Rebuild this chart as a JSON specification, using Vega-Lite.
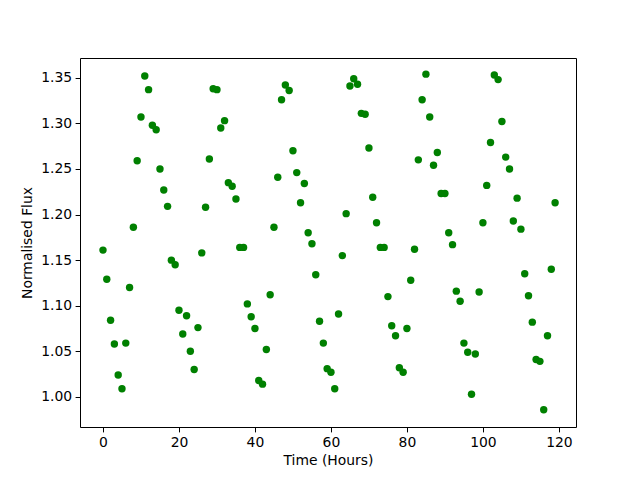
{
  "$schema": "https://vega.github.io/schema/vega-lite/v6.json",
  "width": 496,
  "height": 369,
  "autosize": {"type": "none"},
  "padding": {"left": 80, "top": 58, "right": 64, "bottom": 53},
  "background": "white",
  "config": {
    "view": {"stroke": "black", "strokeWidth": 1},
    "font": "DejaVu Sans",
    "axis": {
      "grid": false,
      "domain": false,
      "tickColor": "black",
      "tickSize": 4.9,
      "tickWidth": 1,
      "labelColor": "black",
      "labelFont": "DejaVu Sans",
      "labelFontSize": 13.9,
      "labelPadding": 3.5,
      "titleColor": "black",
      "titleFont": "DejaVu Sans",
      "titleFontSize": 13.9,
      "titleFontWeight": "normal"
    }
  },
  "data": {
    "values": [
      {"t":0,"f":1.161},{"t":1,"f":1.129},{"t":2,"f":1.084},{"t":3,"f":1.058},{"t":4,"f":1.024},
      {"t":5,"f":1.009},{"t":6,"f":1.059},{"t":7,"f":1.120},{"t":8,"f":1.186},{"t":9,"f":1.259},
      {"t":10,"f":1.307},{"t":11,"f":1.352},{"t":12,"f":1.337},{"t":13,"f":1.298},{"t":14,"f":1.293},
      {"t":15,"f":1.250},{"t":16,"f":1.227},{"t":17,"f":1.209},{"t":18,"f":1.150},{"t":19,"f":1.145},
      {"t":20,"f":1.095},{"t":21,"f":1.069},{"t":22,"f":1.089},{"t":23,"f":1.050},{"t":24,"f":1.030},
      {"t":25,"f":1.076},{"t":26,"f":1.158},{"t":27,"f":1.208},{"t":28,"f":1.261},{"t":29,"f":1.338},
      {"t":30,"f":1.337},{"t":31,"f":1.295},{"t":32,"f":1.303},{"t":33,"f":1.235},{"t":34,"f":1.231},
      {"t":35,"f":1.217},{"t":36,"f":1.164},{"t":37,"f":1.164},{"t":38,"f":1.102},{"t":39,"f":1.088},
      {"t":40,"f":1.075},{"t":41,"f":1.018},{"t":42,"f":1.014},{"t":43,"f":1.052},{"t":44,"f":1.112},
      {"t":45,"f":1.186},{"t":46,"f":1.241},{"t":47,"f":1.326},{"t":48,"f":1.342},{"t":49,"f":1.336},
      {"t":50,"f":1.270},{"t":51,"f":1.246},{"t":52,"f":1.213},{"t":53,"f":1.234},{"t":54,"f":1.180},
      {"t":55,"f":1.168},{"t":56,"f":1.134},{"t":57,"f":1.083},{"t":58,"f":1.059},{"t":59,"f":1.031},
      {"t":60,"f":1.027},{"t":61,"f":1.009},{"t":62,"f":1.091},{"t":63,"f":1.155},{"t":64,"f":1.201},
      {"t":65,"f":1.341},{"t":66,"f":1.349},{"t":67,"f":1.343},{"t":68,"f":1.311},{"t":69,"f":1.310},
      {"t":70,"f":1.273},{"t":71,"f":1.219},{"t":72,"f":1.191},{"t":73,"f":1.164},{"t":74,"f":1.164},
      {"t":75,"f":1.110},{"t":76,"f":1.078},{"t":77,"f":1.067},{"t":78,"f":1.032},{"t":79,"f":1.027},
      {"t":80,"f":1.075},{"t":81,"f":1.128},{"t":82,"f":1.162},{"t":83,"f":1.260},{"t":84,"f":1.326},
      {"t":85,"f":1.354},{"t":86,"f":1.307},{"t":87,"f":1.254},{"t":88,"f":1.268},{"t":89,"f":1.223},
      {"t":90,"f":1.223},{"t":91,"f":1.180},{"t":92,"f":1.167},{"t":93,"f":1.116},{"t":94,"f":1.105},
      {"t":95,"f":1.059},{"t":96,"f":1.049},{"t":97,"f":1.003},{"t":98,"f":1.047},{"t":99,"f":1.115},
      {"t":100,"f":1.191},{"t":101,"f":1.232},{"t":102,"f":1.279},{"t":103,"f":1.353},{"t":104,"f":1.348},
      {"t":105,"f":1.302},{"t":106,"f":1.263},{"t":107,"f":1.250},{"t":108,"f":1.193},{"t":109,"f":1.218},
      {"t":110,"f":1.184},{"t":111,"f":1.135},{"t":112,"f":1.111},{"t":113,"f":1.082},{"t":114,"f":1.041},
      {"t":115,"f":1.039},{"t":116,"f":0.986},{"t":117,"f":1.067},{"t":118,"f":1.140},{"t":119,"f":1.213}
    ]
  },
  "mark": {"type": "circle", "color": "#008000", "opacity": 1, "size": 55},
  "encoding": {
    "x": {
      "field": "t",
      "type": "quantitative",
      "scale": {"domain": [-6.05, 124.5], "nice": false, "zero": false},
      "axis": {"values": [0, 20, 40, 60, 80, 100, 120], "title": "Time (Hours)", "titlePadding": 4}
    },
    "y": {
      "field": "f",
      "type": "quantitative",
      "scale": {"domain": [0.967, 1.3717], "nice": false, "zero": false},
      "axis": {"values": [1.0, 1.05, 1.1, 1.15, 1.2, 1.25, 1.3, 1.35], "format": ".2f", "title": "Normalised Flux", "titlePadding": 6}
    }
  }
}
